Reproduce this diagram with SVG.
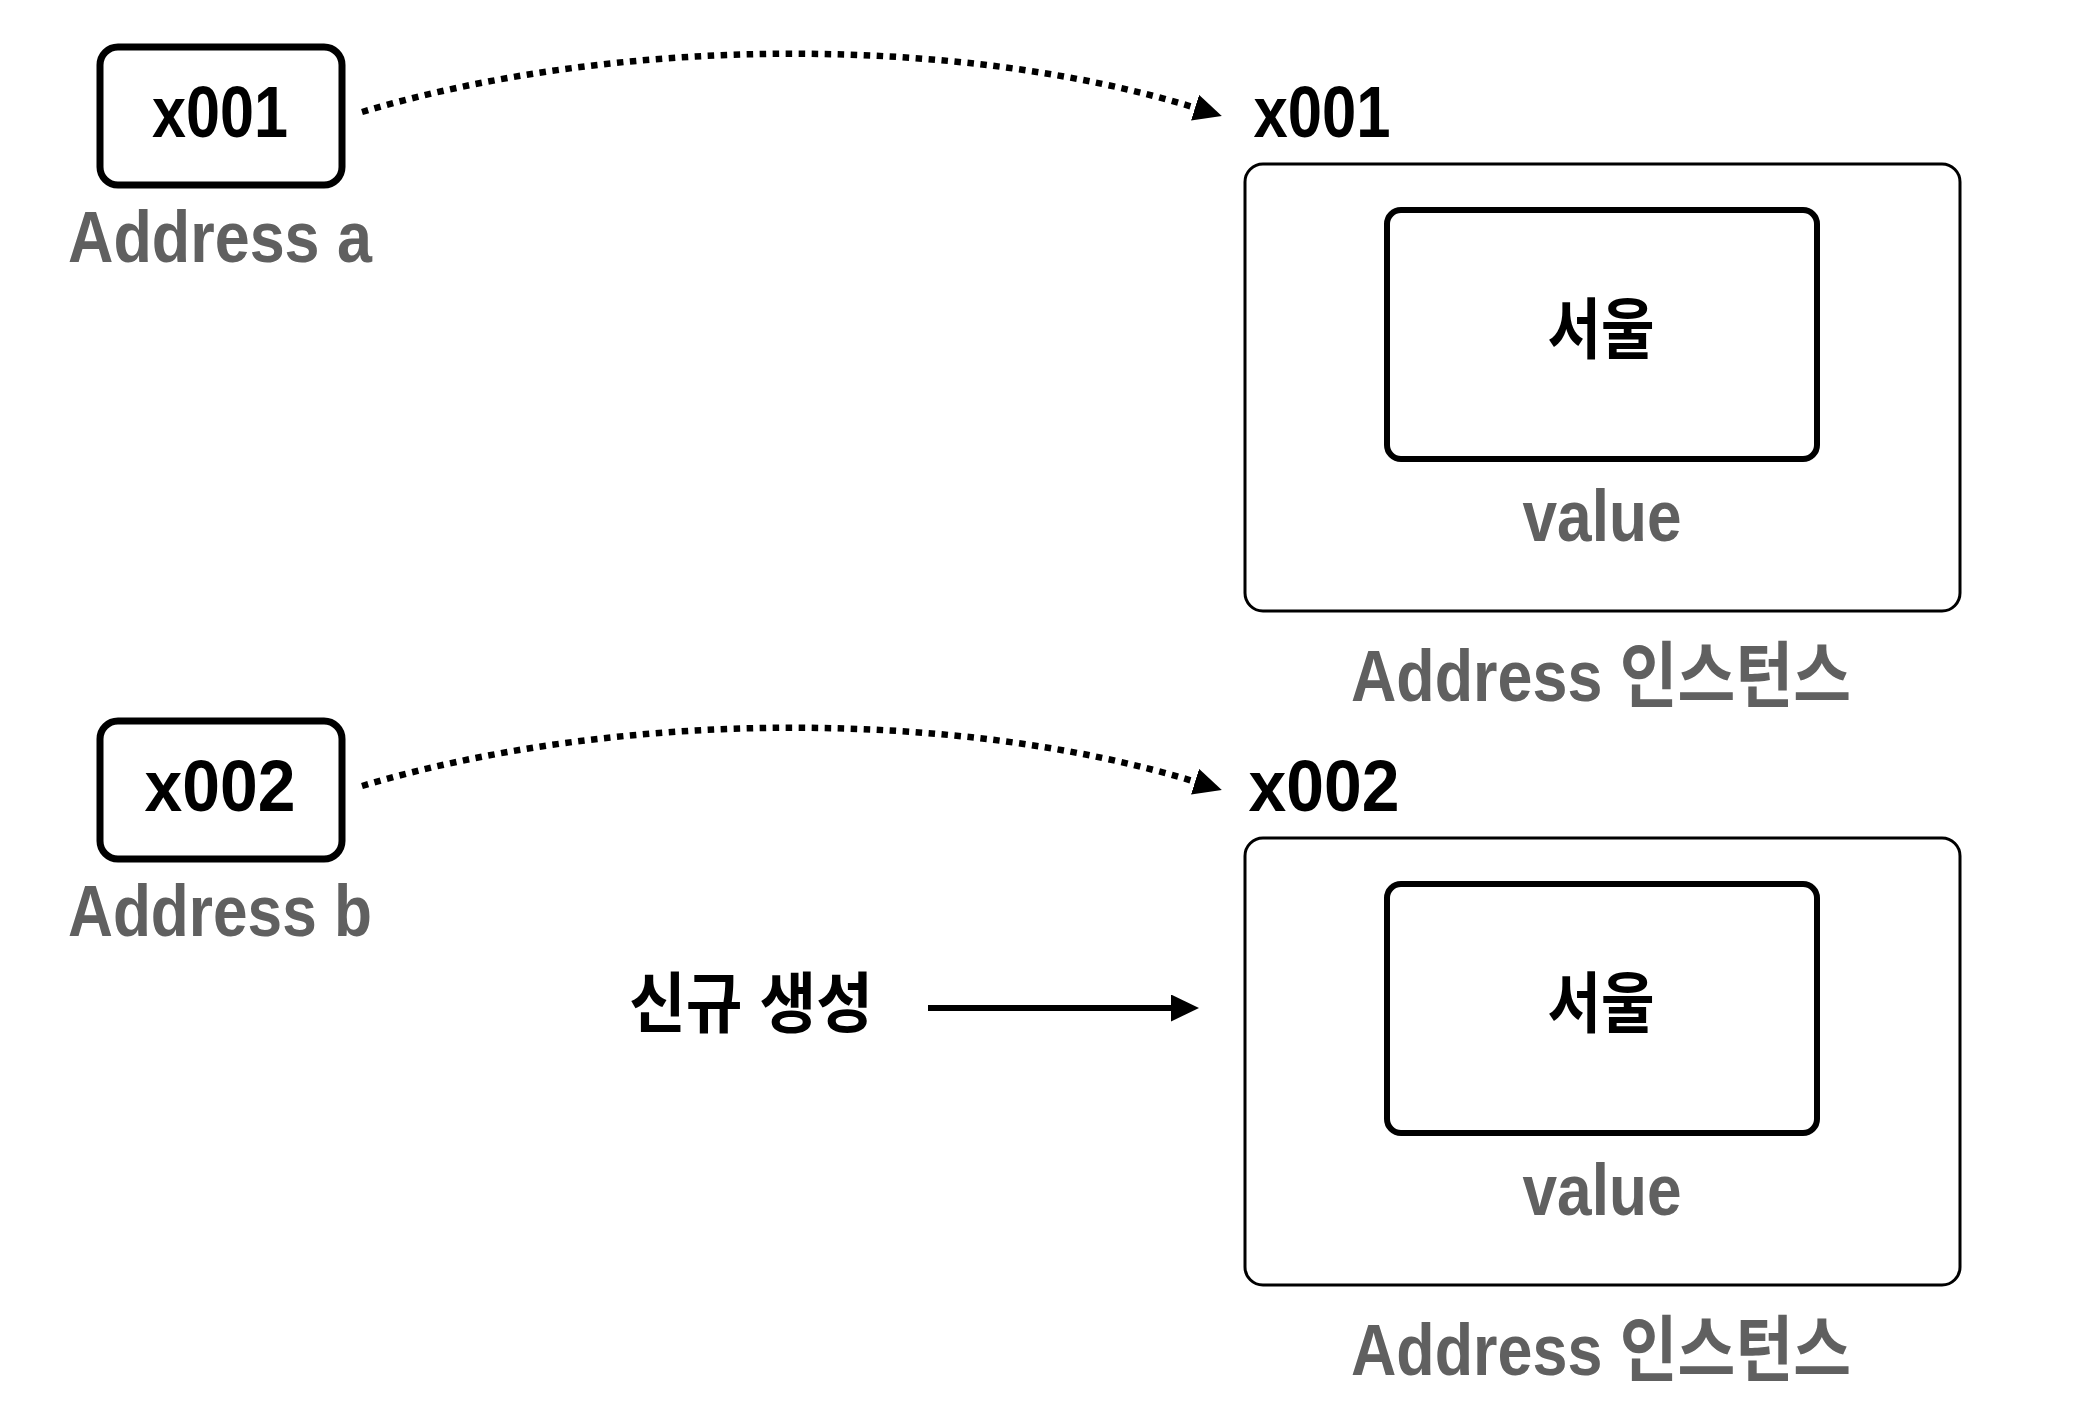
<svg xmlns="http://www.w3.org/2000/svg" width="2074" height="1410" viewBox="0 0 2074 1410">
<style>
text { font-family: "Liberation Sans", "Noto Sans CJK KR", sans-serif; font-weight: bold; text-anchor: middle; }
.blk { fill: #000000; font-size: 72px; }
.gry { fill: #606060; font-size: 72px; }
.ko { font-size: 66px; }
.ptr { fill: #ffffff; stroke: #000000; stroke-width: 7; }
.outer { fill: #ffffff; stroke: #000000; stroke-width: 3; }
.inner { fill: #ffffff; stroke: #000000; stroke-width: 6; }
.dot { fill: none; stroke: #000000; stroke-width: 6.5; stroke-dasharray: 6.5 6.5; }
.solid { fill: none; stroke: #000000; stroke-width: 6; }
</style>
<defs>
<marker id="ah" viewBox="0 0 28 27" refX="1" refY="13.5" markerWidth="28" markerHeight="27" markerUnits="userSpaceOnUse" orient="auto">
<path d="M0,0 L28,13.5 L0,27 Z" fill="#000000"/>
</marker>
</defs>
<rect width="2074" height="1410" fill="#ffffff"/>

<g id="connectors">
<path class="dot" d="M362,112 C620,35 960,35 1196,108" marker-end="url(#ah)"/>
<path class="dot" d="M362,786 C620,709 960,709 1196,782" marker-end="url(#ah)"/>
<path class="solid" d="M928,1008 L1172,1008" marker-end="url(#ah)"/>
</g>

<g id="pointer-a">
<rect class="ptr" x="100" y="47" width="242" height="138" rx="18"/>
<text class="blk" x="220" y="137" textLength="136" lengthAdjust="spacingAndGlyphs">x001</text>
<text class="gry" x="220" y="262" textLength="304" lengthAdjust="spacingAndGlyphs">Address a</text>
</g>

<g id="pointer-b">
<rect class="ptr" x="100" y="721" width="242" height="138" rx="18"/>
<text class="blk" x="220" y="811" textLength="151" lengthAdjust="spacingAndGlyphs">x002</text>
<text class="gry" x="220" y="936" textLength="304" lengthAdjust="spacingAndGlyphs">Address b</text>
</g>

<g id="instance-1">
<text class="blk" x="1322" y="137" textLength="137" lengthAdjust="spacingAndGlyphs">x001</text>
<rect class="outer" x="1245" y="164" width="715" height="447" rx="18"/>
<rect class="inner" x="1387" y="210" width="430" height="249" rx="14"/>
<text class="blk ko" x="1601" y="353" textLength="107" lengthAdjust="spacingAndGlyphs">서울</text>
<text class="gry" x="1602" y="541" textLength="159" lengthAdjust="spacingAndGlyphs">value</text>
<text class="gry" x="1601" y="701" textLength="500" lengthAdjust="spacingAndGlyphs">Address 인스턴스</text>
</g>

<g id="instance-2">
<text class="blk" x="1324" y="811" textLength="151" lengthAdjust="spacingAndGlyphs">x002</text>
<rect class="outer" x="1245" y="838" width="715" height="447" rx="18"/>
<rect class="inner" x="1387" y="884" width="430" height="249" rx="14"/>
<text class="blk ko" x="1601" y="1027" textLength="107" lengthAdjust="spacingAndGlyphs">서울</text>
<text class="gry" x="1602" y="1215" textLength="159" lengthAdjust="spacingAndGlyphs">value</text>
<text class="gry" x="1601" y="1375" textLength="500" lengthAdjust="spacingAndGlyphs">Address 인스턴스</text>
</g>

<g id="new-label">
<text class="blk ko" x="751" y="1027" textLength="244" lengthAdjust="spacingAndGlyphs">신규 생성</text>
</g>
</svg>
